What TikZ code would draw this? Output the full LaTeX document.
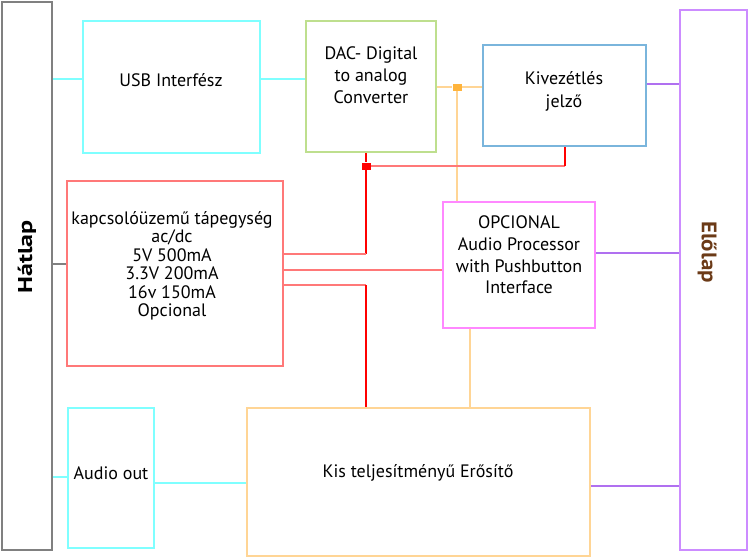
\documentclass[tikz,border=0pt]{standalone}
\usepackage{fontspec}
\setmainfont{PT Sans}
\usetikzlibrary{positioning}
\definecolor{backgray}{HTML}{808080}
\definecolor{usbcyan}{HTML}{7FFFFF}
\definecolor{dacgreen}{HTML}{BEDF8E}
\definecolor{levelblue}{HTML}{7AB5DC}
\definecolor{psured}{HTML}{FF7878}
\definecolor{procpink}{HTML}{FF88FF}
\definecolor{ampsand}{HTML}{FFD595}
\definecolor{frontlilac}{HTML}{CC8CFF}
\definecolor{frontwire}{HTML}{B070F0}
\definecolor{frontbrown}{HTML}{6B3A17}
\definecolor{juncorange}{HTML}{FFB43C}
\tikzset{
  box/.style={draw, line width=2pt, inner sep=0pt},
  wire/.style={line width=2pt},
  junc/.style={fill, inner sep=0pt, minimum width=9, minimum height=7},
  panellabel/.style={font=\bfseries\fontsize{20}{20}\selectfont}
}

\begin{document}
\begin{tikzpicture}[x=1pt, y=-1pt, font=\fontsize{18}{18}\selectfont]
\useasboundingbox (0,0) rectangle (749,558);
% side panels
\node[box, draw=backgray, minimum width=50, minimum height=548] (hatlap) at (27,276) {};
\node[box, draw=frontlilac, minimum width=67, minimum height=540] (elolap) at (713.5,280) {};
\node[panellabel, rotate=90] (hatlaptxt) at (27,257) {\scalebox{1.3}[1]{Hátlap}};
\node[panellabel, text=frontbrown, rotate=-90] (elolaptxt) at (707,252) {\scalebox{1.15}[1.05]{Előlap}};

% blocks
\node[box, draw=usbcyan, minimum width=177, minimum height=132] (usb) at (171.5,87) {};
\node[box, draw=dacgreen, minimum width=130, minimum height=131] (dac) at (371,86.5) {};
\node[box, draw=levelblue, minimum width=163, minimum height=101] (kivez) at (564.5,95.5) {};
\node[box, draw=psured, minimum width=216, minimum height=185] (tap) at (175,273.5) {};
\node[box, draw=procpink, minimum width=152, minimum height=126] (opc) at (519,265) {};
\node[box, draw=ampsand, minimum width=343, minimum height=148] (amp) at (418.5,482) {};
\node[box, draw=usbcyan, minimum width=86, minimum height=140] (aout) at (111,478) {};

% texts
\node (usbtxt) at (171,80) {USB Interfész};
\node[align=center, font=\fontsize{18}{22}\selectfont] (dactxt) at (371,75) {DAC- Digital\\to analog\\Converter};
\node[align=center, font=\fontsize{18}{23}\selectfont] (kiveztxt) at (564,91) {Kivezétlés\\jelző};
\node[align=center, font=\fontsize{18}{18.5}\selectfont] (taptxt) at (172,266) {kapcsolóüzemű tápegység\\ac/dc\\5V 500mA\\3.3V 200mA\\16v 150mA\\Opcional};
\node[align=center, font=\fontsize{18}{21.7}\selectfont] (opctxt) at (519,255) {OPCIONAL\\Audio Processor\\with Pushbutton\\Interface};
\node (amptxt) at (418,473) {Kis teljesítményű Erősítő};
\node (aouttxt) at (111,473) {Audio out};

% junctions and bends
\node[junc, fill=red] (redj) at (366,166) {};
\node[junc, fill=juncorange] (orj) at (457,87) {};
\coordinate (kivbend) at (565,166);
\coordinate (fivev) at (366,254);
\coordinate (sixteenv) at (366,285);

% connections
\draw[wire, usbcyan] (hatlap.east |- 0,79) -- (usb.west |- 0,79);
\draw[wire, usbcyan] (usb.east |- 0,79) -- (dac.west |- 0,79);
\draw[wire, usbcyan] (hatlap.east |- 0,477) -- (aout.west |- 0,477);
\draw[wire, usbcyan] (aout.east |- 0,483) -- (amp.west |- 0,483);
\draw[wire, backgray] (hatlap.east |- 0,264) -- (tap.west |- 0,264);
\draw[wire, ampsand] (dac.east |- orj) -- (orj.west);
\draw[wire, ampsand] (orj.east) -- (kivez.west |- orj);
\draw[wire, ampsand] (orj.south) -- (opc.north -| orj);
\draw[wire, ampsand] (opc.south -| 470,0) -- (amp.north -| 470,0);
\draw[wire, frontwire] (kivez.east |- 0,84) -- (elolap.west |- 0,84);
\draw[wire, frontwire] (opc.east |- 0,253) -- (elolap.west |- 0,253);
\draw[wire, frontwire] (amp.east |- 0,486) -- (elolap.west |- 0,486);
\draw[wire, psured] (redj.east) -- (kivbend);
\draw[wire, red] (kivbend) -- (kivez.south -| kivbend);
\draw[wire, red] (dac.south -| redj) -- (redj.north);
\draw[wire, red] (redj.south) -- (fivev);
\draw[wire, psured] (fivev) -- (tap.east |- fivev);
\draw[wire, psured] (tap.east |- 0,270) -- (opc.west |- 0,270);
\draw[wire, psured] (tap.east |- sixteenv) -- (sixteenv);
\draw[wire, red] (sixteenv) -- (amp.north -| sixteenv);
\end{tikzpicture}
\end{document}
